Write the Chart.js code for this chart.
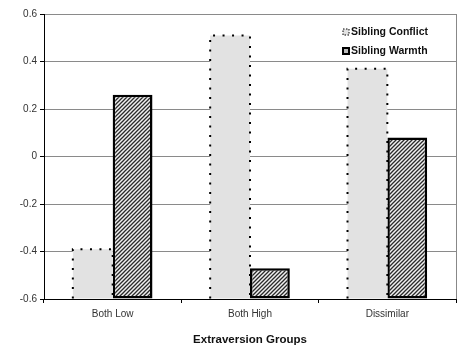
<!DOCTYPE html>
<html lang="en">
<head>
  <meta charset="UTF-8" />
  <title>Extraversion Groups</title>
  <script src="https://cdn.jsdelivr.net/npm/chart.js"></script>
  <style>
    body { margin: 0; background: #fff; }
  </style>
</head>
<body>
  <canvas id="barChart" width="459" height="347"></canvas>

  <script>
    const categories = ['Both Low', 'Both High', 'Dissimilar'];
    const conflictValues = [-0.39, 0.51, 0.37];
    const warmthValues = [0.26, -0.47, 0.08];
    const seriesNames = ['Sibling Conflict', 'Sibling Warmth'];
    const yMin = -0.6, yMax = 0.6, yStep = 0.2;

    const fontFamily = '"Liberation Sans", Arial, sans-serif';

    // diagonal hatch for the warmth bars
    function makeHatch() {
      const c = document.createElement('canvas');
      c.width = 4; c.height = 4;
      const g = c.getContext('2d');
      g.fillStyle = '#f0f0f0';
      g.fillRect(0, 0, 4, 4);
      g.strokeStyle = '#2a2a2a';
      g.lineWidth = 1.3;
      g.beginPath();
      g.moveTo(0, 4); g.lineTo(4, 0);
      g.moveTo(-1, 1); g.lineTo(1, -1);
      g.moveTo(3, 5); g.lineTo(5, 3);
      g.stroke();
      return g.createPattern(c, 'repeat');
    }
    const hatch = makeHatch();

    // dotted outline on conflict bars, right frame line, legend in the corner
    const extras = {
      id: 'extras',
      afterDatasetsDraw(chart) {
        const ctx = chart.ctx;
        const area = chart.chartArea;
        ctx.save();
        ctx.strokeStyle = '#888';
        ctx.lineWidth = 1;
        ctx.beginPath();
        ctx.moveTo(area.right + 0.5, area.top);
        ctx.lineTo(area.right + 0.5, area.bottom);
        ctx.stroke();

        ctx.strokeStyle = '#000';
        ctx.lineWidth = 2;
        ctx.setLineDash([2, 7.5]);
        chart.getDatasetMeta(0).data.forEach(el => {
          const l = el.x - el.width / 2, r = el.x + el.width / 2;
          ctx.beginPath();
          ctx.moveTo(l, el.base);
          ctx.lineTo(l, el.y);
          ctx.lineTo(r, el.y);
          ctx.lineTo(r, el.base);
          ctx.stroke();
        });
        ctx.setLineDash([]);

        // legend
        const lx = area.right - 113, ly1 = area.top + 18, ly2 = area.top + 37;
        ctx.fillStyle = '#e2e2e2';
        ctx.fillRect(lx, ly1 - 3, 6, 6);
        ctx.setLineDash([1.5, 1.5]);
        ctx.lineWidth = 1;
        ctx.strokeRect(lx, ly1 - 3, 6, 6);
        ctx.setLineDash([]);
        ctx.fillStyle = '#bbb';
        ctx.fillRect(lx, ly2 - 3, 6, 6);
        ctx.lineWidth = 2;
        ctx.strokeRect(lx, ly2 - 3, 6, 6);

        ctx.fillStyle = '#111';
        ctx.font = 'bold 10.5px ' + fontFamily;
        ctx.textBaseline = 'middle';
        ctx.fillText(seriesNames[0], lx + 8, ly1);
        ctx.fillText(seriesNames[1], lx + 8, ly2);
        ctx.restore();
      }
    };

    new Chart(document.getElementById('barChart').getContext('2d'), {
      type: 'bar',
      data: {
        labels: categories,
        datasets: [
          {
            label: seriesNames[0],
            data: conflictValues,
            base: yMin,
            backgroundColor: '#e2e2e2',
            borderWidth: 0
          },
          {
            label: seriesNames[1],
            data: warmthValues,
            base: yMin,
            backgroundColor: hatch,
            borderColor: '#000',
            borderWidth: 2.5,
            borderSkipped: false
          }
        ]
      },
      options: {
        responsive: false,
        animation: false,
        devicePixelRatio: 1,
        categoryPercentage: 0.58,
        barPercentage: 1.0,
        layout: { padding: { top: 14, right: 3, left: 0, bottom: 0 } },
        plugins: {
          legend: { display: false },
          tooltip: { enabled: false }
        },
        scales: {
          y: {
            min: yMin,
            max: yMax,
            ticks: {
              stepSize: yStep,
              color: '#333',
              font: { family: fontFamily, size: 10 },
              padding: 3,
              callback: v => String(Math.round(v * 10) / 10)
            },
            grid: { color: '#8a8a8a', tickLength: 4, tickColor: '#000' },
            border: { color: '#000' },
            afterFit: s => { s.width = 44; }
          },
          x: {
            ticks: {
              color: '#333',
              font: { family: fontFamily, size: 10 },
              padding: 5
            },
            grid: { offset: true, drawOnChartArea: false, tickLength: 4, color: '#000' },
            border: { color: '#000' },
            title: {
              display: true,
              text: 'Extraversion Groups',
              color: '#111',
              font: { family: fontFamily, size: 11.5, weight: 'bold' },
              padding: { top: 4, bottom: 0 }
            },
            afterFit: s => { s.height = 48; }
          }
        }
      },
      plugins: [extras]
    });
  </script>
</body>
</html>
